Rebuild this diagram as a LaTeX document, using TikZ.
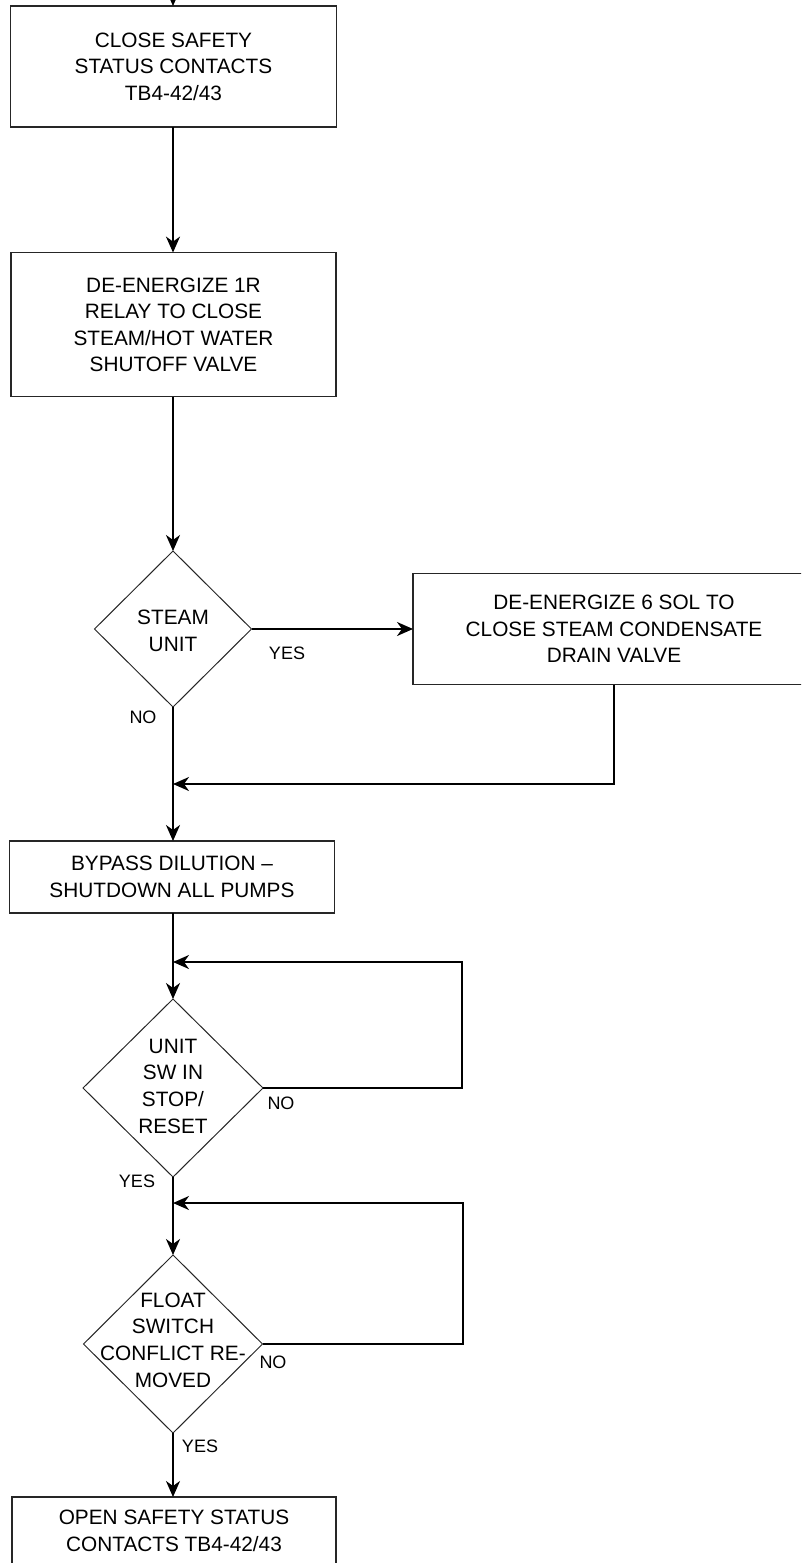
\documentclass[tikz,border=0pt]{standalone}
\usepackage{fontspec}
\setmainfont{Liberation Sans}
\usetikzlibrary{shapes.geometric,arrows.meta}
\begin{document}
\begin{tikzpicture}[x=1pt,y=-1pt,
  every node/.style={inner sep=0pt,outer sep=0pt},
  procbox/.style={draw=black!85,line width=1.3pt,rectangle,align=center,
    font=\fontsize{20.8}{26.5}\selectfont},
  decshape/.style={draw=black!85,line width=1pt,diamond},
  dectext/.style={align=center,font=\fontsize{20.8}{26.7}\selectfont},
  lbl/.style={font=\fontsize{18}{20}\selectfont},
  arr/.style={draw=black,line width=1.8pt,-{Stealth[length=16pt,width=14pt,inset=5pt]}},
  conn/.style={draw=black,line width=1.8pt}]
\useasboundingbox (0,0) rectangle (801,1563);
\clip (0,0) rectangle (801,1563);
\fill[white] (0,0) rectangle (801,1563);

% process boxes
\node[procbox,minimum width=326pt,minimum height=121pt] (b1) at (173.5,66.5)
  {CLOSE SAFETY\\STATUS CONTACTS\\TB4-42/43};
\node[procbox,minimum width=325pt,minimum height=144pt] (b2) at (173.5,324.6)
  {DE-ENERGIZE 1R\\RELAY TO CLOSE\\STEAM/HOT WATER\\SHUTOFF VALVE};
\node[procbox,minimum width=402pt,minimum height=111pt] (b3) at (614,629)
  {DE-ENERGIZE 6 SOL TO\\CLOSE STEAM CONDENSATE\\DRAIN VALVE};
\node[procbox,minimum width=325pt,minimum height=72pt] (b4) at (172,877)
  {BYPASS DILUTION --\\SHUTDOWN ALL PUMPS};
\node[procbox,minimum width=324pt,minimum height=68pt] (b5) at (174,1531)
  {OPEN SAFETY STATUS\\CONTACTS TB4-42/43};

% decision diamonds
\node[decshape,minimum width=157pt,minimum height=156pt] (d1) at (173,629) {};
\node[dectext] (d1t) at (173,631) {STEAM\\UNIT};
\node[decshape,minimum width=180pt,minimum height=178pt] (d2) at (173,1088) {};
\node[dectext] (d2t) at (173,1086) {UNIT\\SW IN\\STOP/\\RESET};
\node[decshape,minimum width=179pt,minimum height=178pt] (d3) at (173,1344) {};
\node[dectext] (d3t) at (173,1340) {FLOAT\\SWITCH\\CONFLICT RE-\\MOVED};

% labels
\node[lbl] (ly1) at (287,653) {YES};
\node[lbl] (ln1) at (143,717) {NO};
\node[lbl] (ln2) at (281,1103) {NO};
\node[lbl] (ly2) at (137,1181) {YES};
\node[lbl] (ln3) at (273,1362) {NO};
\node[lbl] (ly3) at (200,1446) {YES};

% junction coordinates
\coordinate (top) at (173,-10);
\coordinate (j1) at (173,784);
\coordinate (j2) at (173,962);
\coordinate (j3) at (173,1203);
\coordinate (r2) at (462,1088);
\coordinate (r3) at (463,1344);

% connectors
\draw[arr] (top) -- (b1.north -| top);
\draw[arr] (b1.south -| top) -- (b2.north -| top);
\draw[arr] (b2.south -| top) -- (d1.north);
\draw[arr] (d1.east) -- (b3.west);
\draw[arr] (b3.south) |- (j1);
\draw[arr] (d1.south) -- (b4.north -| d1.south);
\draw[arr] (b4.south -| top) -- (d2.north);
\draw[arr] (d2.east) -- (r2) |- (j2);
\draw[arr] (d2.south) -- (d3.north);
\draw[arr] (d3.east) -- (r3) |- (j3);
\draw[arr] (d3.south) -- (b5.north -| d3.south);
\end{tikzpicture}
\end{document}
